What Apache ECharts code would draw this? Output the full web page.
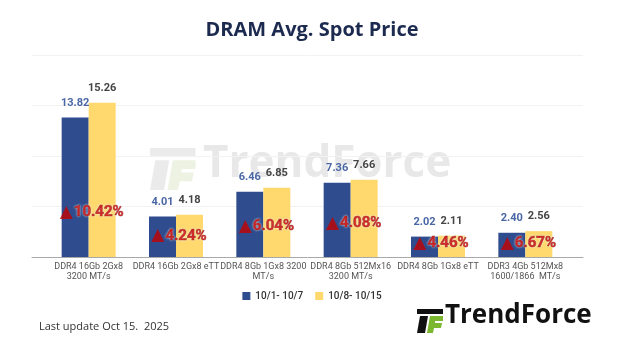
<!DOCTYPE html>
<html>
<head>
<meta charset="utf-8">
<script src="https://cdn.jsdelivr.net/npm/echarts@6/dist/echarts.min.js"></script>
<style>
    html, body { margin: 0; padding: 0; background: #fff; }
    #chart { width: 624px; height: 351px; }
</style>
</head>
<body>
<div id="chart"></div>
<script>
// ==============================================================
// data
// ==============================================================
var categories = [
    'DDR4 16Gb 2Gx8\n3200 MT/s',
    'DDR4 16Gb 2Gx8 eTT',
    'DDR4 8Gb 1Gx8 3200\nMT/s',
    'DDR4 8Gb 512Mx16\n3200 MT/s',
    'DDR4 8Gb 1Gx8 eTT',
    'DDR3 4Gb 512Mx8\n1600/1866  MT/s'
];
var week1Name = '10/1- 10/7';
var week2Name = '10/8- 10/15';
var week1 = [13.82, 4.01, 6.46, 7.36, 2.02, 2.40];
var week2 = [15.26, 4.18, 6.85, 7.66, 2.11, 2.56];
var changes = ['10.42%', '4.24%', '6.04%', '4.08%', '4.46%', '6.67%'];
// height (in price units) where each change tag sits
var changeLevel = [4.4, 2.1, 3.0, 3.3, 1.35, 1.35];
var yTicks = [0, 5, 10, 15, 20];

var blue = '#2f4d8e';
var yellow = '#ffd86e';

var chart = echarts.init(document.getElementById('chart'));

// ==============================================================
// logo pieces (used twice: watermark + footer)
// ==============================================================
function logo(x, y, s, dark, green, z) {
    return [
        { type: 'polygon', z: z, silent: true, shape: { points: [[x, y], [x + 26 * s, y], [x + 26 * s, y + 5 * s], [x, y + 5 * s]] }, style: { fill: dark } },
        { type: 'polygon', z: z, silent: true, shape: { points: [[x + 3 * s, y + 7 * s], [x + 11 * s, y + 7 * s], [x + 8 * s, y + 24 * s], [x, y + 24 * s]] }, style: { fill: dark } },
        { type: 'polygon', z: z, silent: true, shape: { points: [[x + 13 * s, y + 7 * s], [x + 26 * s, y + 7 * s], [x + 26 * s, y + 12 * s], [x + 18 * s, y + 12 * s], [x + 18 * s, y + 14 * s], [x + 25 * s, y + 14 * s], [x + 24 * s, y + 19 * s], [x + 17 * s, y + 19 * s], [x + 16 * s, y + 24 * s], [x + 10 * s, y + 24 * s]] }, style: { fill: green } }
    ];
}

var graphics = []
    .concat(logo(150, 148, 1.75, '#ebebeb', '#eef2e2', 0))
    .concat([{
        type: 'text', left: 203, top: 142, z: 0, silent: true,
        style: { text: 'TrendForce', fill: '#e8e8e8', font: 'bold 44px "Open Sans"' }
    }])
    .concat(logo(417, 309, 1.0, '#111', '#7cb82f', 10))
    .concat([{
        type: 'text', left: 445, top: 303, z: 10,
        style: { text: 'TrendForce', fill: '#111', font: 'bold 26px "Open Sans"' }
    }, {
        type: 'text', left: 39, top: 321, z: 10,
        style: { text: 'Last update Oct 15.  2025', fill: '#333', font: '11px "Open Sans"' }
    }]);

// ==============================================================
// option
// ==============================================================
option = {
    animation: false,
    title: {
        text: 'DRAM Avg. Spot Price',
        left: 'center',
        top: 15,
        textStyle: { fontFamily: 'Open Sans', fontSize: 20, fontWeight: 'bold', color: '#1c2a4f' }
    },
    legend: {
        data: [week1Name, week2Name],
        left: 'center',
        top: 286,
        itemWidth: 8,
        itemHeight: 8,
        itemGap: 12,
        icon: 'rect',
        textStyle: { fontFamily: 'Roboto', fontSize: 10, color: '#333', fontWeight: 500 }
    },
    graphic: graphics,
    grid: [
        { left: 45, right: 55, top: 55, bottom: 94 },
        { left: 32, right: 41, top: 55, bottom: 94 }
    ],
    xAxis: [{
        type: 'category',
        data: categories,
        gridIndex: 0,
        axisLine: { show: false },
        axisTick: { show: false },
        axisLabel: { interval: 0, margin: 5, fontFamily: 'Roboto', fontSize: 9, lineHeight: 10, color: '#555' }
    }, {
        type: 'value',
        gridIndex: 1,
        min: 0, max: 1,
        axisLine: { show: true, lineStyle: { color: '#a9a9a9' } },
        axisTick: { show: false },
        axisLabel: { show: false },
        splitLine: { show: false }
    }],
    yAxis: [{
        type: 'value',
        gridIndex: 0,
        min: yTicks[0], max: yTicks[yTicks.length - 1], interval: 5,
        show: false
    }, {
        type: 'value',
        gridIndex: 1,
        min: yTicks[0], max: yTicks[yTicks.length - 1], interval: 5,
        axisLine: { show: false },
        axisTick: { show: false },
        axisLabel: { show: false },
        splitLine: { lineStyle: { color: '#f2f2f2' } }
    }],
    series: [{
        name: week1Name,
        type: 'bar',
        data: week1,
        barWidth: 27,
        barGap: '0%',
        itemStyle: { color: blue },
        label: {
            show: true, position: 'top', distance: 9,
            formatter: function (p) { return p.value.toFixed(2); },
            fontFamily: 'Roboto', fontSize: 11, fontWeight: 'bold', color: '#4a67a5'
        }
    }, {
        name: week2Name,
        type: 'bar',
        data: week2,
        barWidth: 27,
        itemStyle: { color: yellow },
        label: {
            show: true, position: 'top', distance: 9,
            formatter: function (p) { return p.value.toFixed(2); },
            fontFamily: 'Roboto', fontSize: 11, fontWeight: 'bold', color: '#444'
        }
    }, {
        name: 'change',
        type: 'scatter',
        data: changeLevel,
        symbolSize: 1,
        itemStyle: { color: 'rgba(0,0,0,0)' },
        z: 5,
        label: {
            show: true,
            position: 'inside',
            offset: [3, 0],
            formatter: function (p) { return '{t|▲}{v|' + changes[p.dataIndex] + '}'; },
            rich: {
                t: { fontFamily: 'DejaVu Sans', fontSize: 17, color: '#c40000', padding: [0, 1, 0, 0] },
                v: {
                    fontFamily: 'Roboto',
                    fontSize: 15, fontWeight: 'bold', color: '#c80000',
                    textBorderColor: '#5c0000', textBorderWidth: 0.7,
                    textShadowColor: 'rgba(255,255,255,0.9)', textShadowBlur: 2
                }
            }
        }
    }]
};

chart.setOption(option, true);
</script>
</body>
</html>
